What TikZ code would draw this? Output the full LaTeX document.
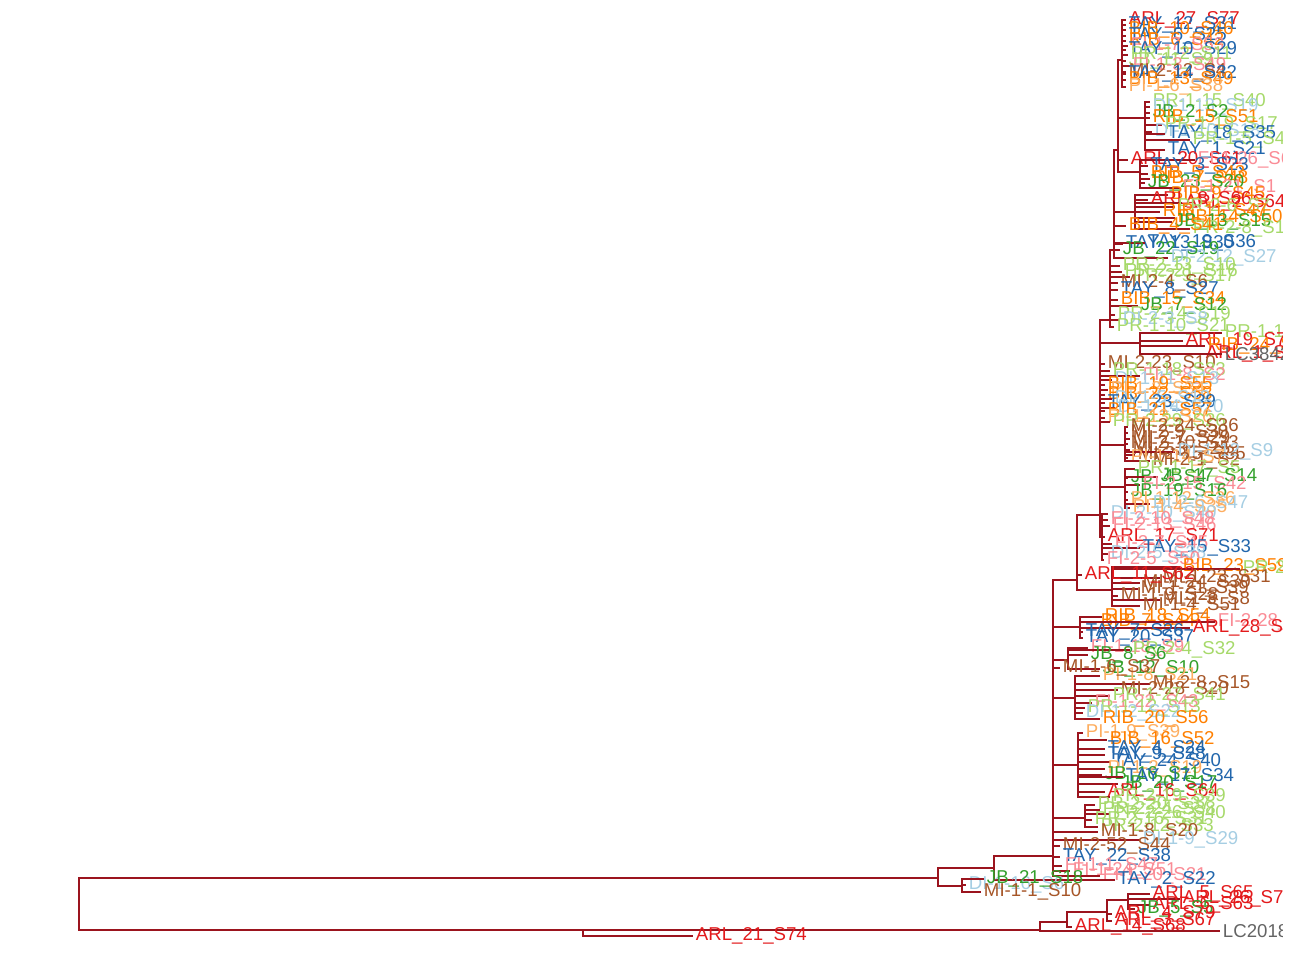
\documentclass[tikz,border=0pt]{standalone}
\usepackage{fontspec}
\setmainfont{Liberation Sans}
\usepackage{xcolor}
\usepackage{tikz}

\definecolor{treered}{RGB}{155,20,30}
\definecolor{ctay}{RGB}{33,102,172}
\definecolor{cjb}{RGB}{51,160,44}
\definecolor{cpr}{RGB}{166,217,106}
\definecolor{cbib}{RGB}{255,127,0}
\definecolor{cpi}{RGB}{253,174,97}
\definecolor{carl}{RGB}{227,26,28}
\definecolor{cmi}{RGB}{166,86,40}
\definecolor{cdi}{RGB}{166,206,227}
\definecolor{cfi}{RGB}{250,140,150}
\definecolor{clc}{RGB}{100,100,100}

\begin{document}
\begin{tikzpicture}[
    x=0.02cm, y=-0.02cm,
    font=\fontsize{10.6}{11}\selectfont,
    br/.style={draw=treered, line width=1.6pt},
    lab/.style={anchor=west, inner sep=1.5pt, text=#1},
  ]
  \useasboundingbox (0,0) rectangle (1296,960);
  \clip (0,0) rectangle (1282,960);

  % inner nodes of the tree (pixel grid, y down)
  \coordinate (root) at (79,904);
  \coordinate (a)  at (938,878);
  \coordinate (f)  at (583,930);
  \coordinate (c)  at (994,868);
  \coordinate (e)  at (962,886);
  \coordinate (d)  at (1053,856);
  \coordinate (k)  at (1077,580);
  \coordinate (n)  at (1112,590);
  \coordinate (m)  at (1100,515);
  \coordinate (p)  at (1140,343);
  \coordinate (q)  at (1125,445);
  \coordinate (r)  at (1125,487);
  \coordinate (s)  at (1102,537);
  \coordinate (t1) at (1110,320);
  \coordinate (t2) at (1114,250);
  \coordinate (t3) at (1118,150);
  \coordinate (t4) at (1122,60);
  \coordinate (u)  at (1145,118);
  \coordinate (v)  at (1140,172);
  \coordinate (w)  at (1135,212);
  \coordinate (l0) at (1080,627);
  \coordinate (l1) at (1068,660);
  \coordinate (l2) at (1075,698);
  \coordinate (l3) at (1078,765);
  \coordinate (l4) at (1085,818);
  \coordinate (g)  at (1040,930);
  \coordinate (h)  at (1067,922);
  \coordinate (i)  at (1107,912);
  \coordinate (j)  at (1128,900);

  % backbone
  \draw[br] (root) |- (a);
  \draw[br] (root) |- (f);
  \draw[br] (a) |- (c);
  \draw[br] (a) |- (e);
  \draw[br] (c) |- (d);
  \draw[br] (d) |- (k);
  \draw[br] (d) |- (l0);
  \draw[br] (d) |- (l1);
  \draw[br] (d) |- (l2);
  \draw[br] (d) |- (l3);
  \draw[br] (d) |- (l4);
  \draw[br] (k) |- (m);
  \draw[br] (k) |- (n);
  \draw[br] (m) |- (t1);
  \draw[br] (m) |- (p);
  \draw[br] (m) |- (q);
  \draw[br] (m) |- (r);
  \draw[br] (m) |- (s);
  \draw[br] (t1) |- (t2);
  \draw[br] (t2) |- (t3);
  \draw[br] (t2) |- (w);
  \draw[br] (t3) |- (t4);
  \draw[br] (t3) |- (u);
  \draw[br] (t3) |- (v);
  \draw[br] (f) |- (g);
  \draw[br] (g) |- (h);
  \draw[br] (h) |- (i);
  \draw[br] (i) |- (j);

  % tips, clade by clade
  \foreach \n/\x/\y/\col/\txt in {
      arlA/1126/20/carl/ARL\_27\_S77, tayA/1126/25/ctay/TAY\_12\_S31,
      bibA/1126/30/cbib/BIB\_10\_S46, tayB/1126/36/ctay/TAY\_6\_S25,
      bibB/1126/41/cbib/RIB\_6\_S42, fiA/1128/46/cfi/FI-1-7\_S53,
      tayC/1126/50/ctay/TAY\_10\_S29, prA/1128/55/cpr/PR-1-2\_S11,
      jbA/1126/61/cpr/JB\_11\_S9, fiB/1130/66/cfi/FI-1-3\_S49,
      miA/1126/72/cmi/MI-2-12\_S4, tayD/1126/74/ctay/TAY\_14\_S32,
      bibC/1126/80/cbib/BIB\_13\_S49, piA/1126/87/cpi/PI-1-6\_S38}
    {\node[lab=\col] (\n) at (\x,\y) {\txt}; \draw[br] (t4) |- (\n.west);}
  \foreach \n/\x/\y/\col/\txt in {
      prB/1150/102/cpr/PR-1-15\_S40, diA/1150/107/cdi/DI-1-13\_S19,
      jbB/1150/113/cjb/JB\_2\_S2, bibD/1150/118/cbib/RIB\_15\_S51,
      prC/1162/125/cpr/PR-1-19\_S17, diB/1152/132/cdi/DI-1-10\_S18,
      tayE/1165/134/ctay/TAY\_18\_S35, prD/1190/140/cpr/PR-1-5\_S4,
      tayF/1165/150/ctay/TAY\_1\_S21}
    {\node[lab=\col] (\n) at (\x,\y) {\txt}; \draw[br] (u) |- (\n.west);}
  \foreach \n/\x/\y/\col/\txt in {
      arlB/1128/160/carl/ARL\_20\_S61}
    {\node[lab=\col] (\n) at (\x,\y) {\txt}; \draw[br] (t3) |- (\n.west);}
  \foreach \n/\x/\y/\col/\txt in {
      fiC/1195/160/cfi/FI-1-26\_S6, tayG/1148/166/ctay/TAY\_3\_S23,
      bibE/1148/174/cbib/BIB\_5\_S43, bibF/1150/179/cbib/RIB\_7\_S48,
      jbC/1145/183/cjb/JB\_23\_S20, fiD/1180/188/cfi/FI-1-21\_S1}
    {\node[lab=\col] (\n) at (\x,\y) {\txt}; \draw[br] (v) |- (\n.west);}
  \foreach \n/\x/\y/\col/\txt in {
      bibG/1168/195/cbib/BIB\_9\_S45, arlC/1148/200/carl/ARL\_8\_S66,
      arlD/1182/203/carl/ARL\_2\_S64, prE/1175/207/cpr/PR-2-6\_S7,
      bibH/1160/212/cbib/RIB\_11\_S47, bibI/1175/218/cbib/BIB\_14\_S50,
      jbD/1172/222/cjb/JB\_13\_S15, prF/1190/229/cpr/PR-2-8\_S14}
    {\node[lab=\col] (\n) at (\x,\y) {\txt}; \draw[br] (w) |- (\n.west);}
  \foreach \n/\x/\y/\col/\txt in {
      bibJ/1126/226/cbib/BIB\_4\_S41, tayH/1123/244/ctay/TAY\_13\_S30,
      tayI/1145/243/ctay/TAY\_19\_S36, jbE/1120/250/cjb/JB\_22\_S19,
      diC/1168/258/cdi/DI-2-12\_S27}
    {\node[lab=\col] (\n) at (\x,\y) {\txt}; \draw[br] (t2) |- (\n.west);}
  \foreach \n/\x/\y/\col/\txt in {
      prG/1120/266/cpr/PR-2-13\_S10, prH/1122/272/cpr/PR-2-21\_S16,
      prI/1130/277/cpr/PR-2-9\_S17, miB/1118/283/cmi/MI-2-4\_S6,
      tayJ/1118/290/ctay/TAY\_8\_S27, bibK/1118/300/cbib/BIB\_15\_S34,
      jbF/1138/306/cjb/JB\_7\_S12, prJ/1115/315/cpr/PR-2-14\_S19,
      diD/1120/320/cdi/DI-2-3\_S8, prK/1114/327/cpr/PR-1-10\_S21}
    {\node[lab=\col] (\n) at (\x,\y) {\txt}; \draw[br] (t1) |- (\n.west);}
  \foreach \n/\x/\y/\col/\txt in {
      prL/1222/333/cpr/PR-1-1\_S1, arlE/1183/341/carl/ARL\_19\_S73,
      bibL/1205/346/cbib/RIB\_24\_S60, arlF/1203/354/carl/ARL\_1\_S52,
      lcA/1222/354/clc/LC3842}
    {\node[lab=\col] (\n) at (\x,\y) {\txt}; \draw[br] (p) |- (\n.west);}
  \foreach \n/\x/\y/\col/\txt in {
      miC/1105/364/cmi/MI-2-23\_S10, prM/1110/371/cpr/PR-1-18\_S23,
      fiE/1140/376/cfi/FI-1-8\_S2, diE/1112/380/cdi/DI-1-11\_S13,
      bibM/1105/385/cbib/BIB\_19\_S55, piB/1108/390/cpi/PI-1-3\_S34,
      bibN/1105/395/cbib/BIB\_22\_S58, diF/1112/399/cdi/DI-1-5\_S12,
      tayK/1105/403/ctay/TAY\_23\_S39, diG/1115/408/cdi/DI-1-14\_S20,
      bibO/1105/411/cbib/BIB\_21\_S57, piC/1105/418/cpi/PI-1-13\_S26,
      prN/1110/422/cpr/PR-2-29\_S26}
    {\node[lab=\col] (\n) at (\x,\y) {\txt}; \draw[br] (m) |- (\n.west);}
  \foreach \n/\x/\y/\col/\txt in {
      miD/1128/427/cmi/MI-2-24\_S36, miE/1128/433/cmi/MI-2-9\_S30,
      miF/1130/439/cmi/MI-2-7\_S29, miG/1128/444/cmi/MI-2-10\_S33,
      miH/1130/450/cmi/MI-2-3\_S25, miI/1135/455/cmi/MI-2-15\_S35,
      diH/1175/452/cdi/DI-1-12\_S9, piD/1128/458/cpi/PI-1-14\_S7,
      miJ/1150/461/cmi/MI-2-1\_S2}
    {\node[lab=\col] (\n) at (\x,\y) {\txt}; \draw[br] (q) |- (\n.west);}
  \foreach \n/\x/\y/\col/\txt in {
      prO/1135/469/cpr/PR-1-17\_S5, jbG/1128/478/cjb/JB\_4\_S4,
      jbH/1158/477/cjb/JB\_17\_S14, fiF/1140/485/cfi/FI-2-15\_S42,
      jbI/1128/492/cjb/JB\_19\_S16, piE/1128/500/cpi/PI-1-12\_S36,
      diI/1150/504/cdi/DI-2-6\_S47, piF/1130/508/cpi/PI-1-4\_S35}
    {\node[lab=\col] (\n) at (\x,\y) {\txt}; \draw[br] (r) |- (\n.west);}
  \foreach \n/\x/\y/\col/\txt in {
      diJ/1108/514/cdi/DI-2-10\_S40, fiG/1108/520/cfi/FI-2-10\_S48,
      fiH/1110/526/cfi/FI-2-13\_S46, arlG/1105/537/carl/ARL\_17\_S71,
      fiI/1112/544/cfi/FI-2-7\_S45, tayL/1140/548/ctay/TAY\_15\_S33,
      diK/1108/554/cdi/DI-2-5\_S38, fiJ/1104/560/cfi/FI-2-5\_S50}
    {\node[lab=\col] (\n) at (\x,\y) {\txt}; \draw[br] (s) |- (\n.west);}
  \foreach \n/\x/\y/\col/\txt in {
      bibP/1180/567/cbib/BIB\_23\_S59, prP/1240/569/cpr/PR-2-18\_S9,
      miK/1160/578/cmi/MI-1-23\_S31, miL/1140/583/cmi/MI-1-24\_S30,
      miM/1138/589/cmi/MI-1-21\_S39, miN/1118/596/cmi/MI-1-9\_S28,
      miO/1160/600/cmi/MI-1-3\_S8, miP/1140/606/cmi/MI-1-4\_S51}
    {\node[lab=\col] (\n) at (\x,\y) {\txt}; \draw[br] (n) |- (\n.west);}
  \foreach \n/\x/\y/\col/\txt in {
      arlH/1082/575/carl/ARL\_11\_S62}
    {\node[lab=\col] (\n) at (\x,\y) {\txt}; \draw[br] (k) |- (\n.west);}
  \foreach \n/\x/\y/\col/\txt in {
      bibQ/1102/617/cbib/RIB\_18\_S54, bibR/1098/622/cbib/BIB\_7\_S44,
      fiK/1215/622/cfi/FI-2-28\_S25, arlI/1190/628/carl/ARL\_28\_S78,
      tayM/1083/632/ctay/TAY\_7\_S26, tayN/1083/638/ctay/TAY\_20\_S37}
    {\node[lab=\col] (\n) at (\x,\y) {\txt}; \draw[br] (l0) |- (\n.west);}
  \foreach \n/\x/\y/\col/\txt in {
      fiL/1088/648/cfi/FI-1-18\_S9, prQ/1130/650/cpr/PR-2-4\_S32,
      jbJ/1088/655/cjb/JB\_8\_S6, jbK/1100/669/cjb/JB\_12\_S10}
    {\node[lab=\col] (\n) at (\x,\y) {\txt}; \draw[br] (l1) |- (\n.west);}
  \foreach \n/\x/\y/\col/\txt in {
      piG/1100/676/cpi/PI-1-8\_S21, miR/1150/684/cmi/MI-2-8\_S15,
      miS/1118/690/cmi/MI-2-28\_S20, prR/1110/696/cpr/PR-1-27\_S41,
      fiM/1092/703/cfi/FI-1-22\_S43, prS/1085/708/cpr/PR-1-12\_S13,
      diL/1083/713/cdi/DI-1-2\_S22, bibS/1100/719/cbib/RIB\_20\_S56}
    {\node[lab=\col] (\n) at (\x,\y) {\txt}; \draw[br] (l2) |- (\n.west);}
  \foreach \n/\x/\y/\col/\txt in {
      piH/1083/733/cpi/PI-1-9\_S39, bibT/1107/740/cbib/BIB\_16\_S52,
      tayO/1105/749/ctay/TAY\_4\_S24, tayP/1105/755/ctay/TAY\_9\_S28,
      tayQ/1110/762/ctay/TAY\_24\_S40, piI/1105/769/cpi/PI-1-2\_S19,
      jbL/1102/775/cjb/JB\_16\_S11, tayR/1123/777/ctay/TAY\_17\_S34,
      jbM/1118/784/cjb/JB\_20\_S17, arlJ/1105/792/carl/ARL\_16\_S64,
      prT/1110/797/cpr/PR-2-19\_S39}
    {\node[lab=\col] (\n) at (\x,\y) {\txt}; \draw[br] (l3) |- (\n.west);}
  \foreach \n/\x/\y/\col/\txt in {
      prU/1095/805/cpr/PR-2-20\_S37, prV/1100/810/cpr/PR-2-24\_S38,
      prW/1110/814/cpr/PR-2-26\_S40, prX/1092/820/cpr/PR-2-16\_S31,
      prY/1098/827/cpr/PR-2-12\_S33}
    {\node[lab=\col] (\n) at (\x,\y) {\txt}; \draw[br] (l4) |- (\n.west);}
  \foreach \n/\x/\y/\col/\txt in {
      miQ/1060/668/cmi/MI-1-6\_S37, miT/1098/832/cmi/MI-1-8\_S20,
      diM/1140/840/cdi/DI-1-9\_S29, miU/1060/846/cmi/MI-2-52\_S44,
      tayS/1060/857/ctay/TAY\_22\_S38, fiN/1062/866/cfi/FI-1-1\_S47,
      fiO/1070/871/cfi/FI-1-24\_S51, fiP/1100/876/cfi/FI-1-20\_S21}
    {\node[lab=\col] (\n) at (\x,\y) {\txt}; \draw[br] (d) |- (\n.west);}

  % lower part: outliers and the ARL group
  \node[lab=ctay] (tayT) at (1115,880) {TAY\_2\_S22};
  \draw[br] (c) |- (tayT.west);
  \foreach \n/\x/\y/\col/\txt in {
      diN/966/885/cdi/DI-1-16\_S6, jbN/984/879/cjb/JB\_21\_S18,
      miV/981/892/cmi/MI-1-1\_S10}
    {\node[lab=\col] (\n) at (\x,\y) {\txt}; \draw[br] (e) |- (\n.west);}
  \foreach \n/\x/\y/\col/\txt in {
      arlK/1150/894/carl/ARL\_5\_S65, arlL/1180/899/carl/ARL\_26\_S76,
      arlM/1150/905/carl/ARL\_6\_S63, jbO/1135/909/cjb/JB\_5\_S5}
    {\node[lab=\col] (\n) at (\x,\y) {\txt}; \draw[br] (j) |- (\n.west);}
  \foreach \n/\x/\y/\col/\txt in {
      arlN/1112/914/carl/ARL\_4\_S79, arlO/1112/921/carl/ARL\_3\_S67}
    {\node[lab=\col] (\n) at (\x,\y) {\txt}; \draw[br] (i) |- (\n.west);}
  \node[lab=carl] (arlP) at (1072,927) {ARL\_14\_S68};
  \draw[br] (h) |- (arlP.west);
  \node[lab=clc] (lcB) at (1220,931) {LC2018};
  \draw[br] (g) |- (lcB.west);
  \node[lab=carl] (arlQ) at (693,936) {ARL\_21\_S74};
  \draw[br] (f) |- (arlQ.west);

\end{tikzpicture}
\end{document}
